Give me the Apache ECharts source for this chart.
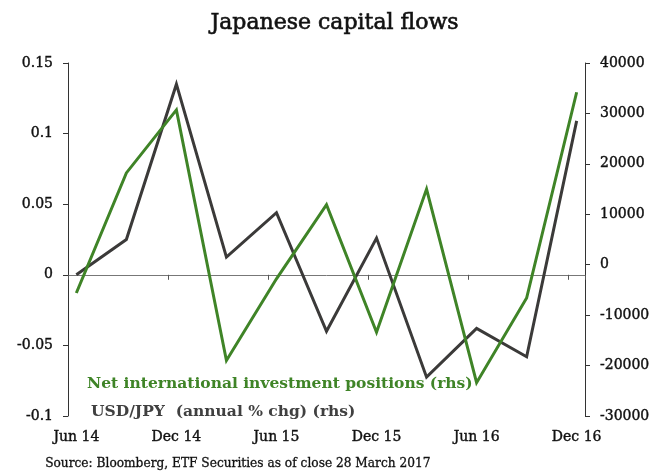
<!DOCTYPE html>
<html>
<head>
<meta charset="utf-8">
<script src="https://cdn.jsdelivr.net/npm/echarts@6/dist/echarts.min.js"></script>
<style>
  html, body { margin: 0; padding: 0; background: #ffffff; }
  #chart { width: 669px; height: 475px; }
</style>
</head>
<body>
<div id="chart"></div>
<script>
// Quarter-end observations, Jun 2014 to Dec 2016
const quarters = ['Jun 14', 'Sep 14', 'Dec 14', 'Mar 15', 'Jun 15', 'Sep 15',
                  'Dec 15', 'Mar 16', 'Jun 16', 'Sep 16', 'Dec 16'];

// USD/JPY, annual % change (left axis)
const usdJpyChange = [0.000, 0.025, 0.135, 0.0125, 0.044, -0.040,
                      0.026, -0.0725, -0.038, -0.058, 0.109];

// Net international investment positions (right axis)
const netIntlPositions = [-5600, 18200, 30700, -19000, -2800, 11900,
                          -13400, 15000, -23400, -6600, 34200];

// Axis tick labels
const leftTicks = ['-0.1', '-0.05', '0', '0.05', '0.1', '0.15'];
const rightTicks = ['-30000', '-20000', '-10000', '0', '10000', '20000', '30000', '40000'];

// Monthly time line so quarters sit mid-month and ticks fall on half-year boundaries
const monthNames = ['Jan', 'Feb', 'Mar', 'Apr', 'May', 'Jun', 'Jul', 'Aug', 'Sep', 'Oct', 'Nov', 'Dec'];
const months = [];
for (let y = 14, m = 5; !(y === 17 && m === 0); ) {
  months.push(monthNames[m] + ' ' + y);
  m++;
  if (m === 12) { m = 0; y++; }
}

const SERIF = '"DejaVu Serif", "Liberation Serif", serif';
const GREEN = '#3f8427';
const DARK = '#3b3a39';
const AXIS = '#333333';
const INK = '#111111';

// slightly heavier strokes for the body text
const heavy = (color, w) => ({ textBorderColor: color, textBorderWidth: w });

const chart = echarts.init(document.getElementById('chart'), null, { renderer: 'canvas' });

chart.setOption({
  animation: false,
  backgroundColor: '#ffffff',
  title: {
    text: 'Japanese capital flows',
    left: 'center',
    top: 7,
    textStyle: Object.assign({ fontFamily: SERIF, fontSize: 22, fontWeight: 'normal', color: INK }, heavy(INK, 0.6))
  },
  legend: [
    {
      data: [{ name: 'Net international investment positions (rhs)', textStyle: { color: GREEN } }],
      left: 81, top: 376, padding: 0, itemWidth: 0, itemHeight: 0, itemGap: 0,
      textStyle: { fontFamily: SERIF, fontSize: 15.5, fontWeight: 'bold' },
      selectedMode: false
    },
    {
      data: [{ name: 'USD/JPY  (annual % chg) (rhs)', textStyle: { color: '#404040' } }],
      left: 85, top: 404, padding: 0, itemWidth: 0, itemHeight: 0, itemGap: 0,
      textStyle: { fontFamily: SERIF, fontSize: 15.5, fontWeight: 'bold' },
      selectedMode: false
    }
  ],
  graphic: [{
    type: 'text',
    left: 45, top: 458,
    style: {
      text: 'Source: Bloomberg, ETF Securities as of close 28 March 2017',
      font: '12.2px "DejaVu Serif", serif',
      fill: INK,
      stroke: INK,
      lineWidth: 0.3
    }
  }],
  grid: { left: 68, right: 84, top: 63, bottom: 59, containLabel: false },
  xAxis: [
    {
      // labels along the bottom edge
      type: 'category',
      data: months,
      boundaryGap: true,
      position: 'bottom',
      axisLine: { show: false, onZero: false },
      axisTick: { show: false },
      axisLabel: Object.assign({
        interval: 5, margin: 14, color: INK,
        fontFamily: SERIF, fontSize: 14
      }, heavy(INK, 0.4)),
      splitLine: { show: false }
    },
    {
      // axis line crossing at zero on the left scale
      type: 'category',
      data: months,
      boundaryGap: true,
      position: 'bottom',
      axisLine: { show: true, onZero: true, lineStyle: { color: '#777777', width: 1 } },
      axisTick: { show: true, interval: 5, length: 5, lineStyle: { color: '#555555' } },
      axisLabel: { show: false },
      splitLine: { show: false }
    }
  ],
  yAxis: [
    {
      type: 'value',
      min: -0.1, max: 0.15, interval: 0.05,
      position: 'left',
      axisLine: { show: true, lineStyle: { color: AXIS, width: 1 } },
      axisTick: { show: true, length: 5, lineStyle: { color: AXIS } },
      axisLabel: Object.assign({
        margin: 15, color: INK, fontFamily: SERIF, fontSize: 14,
        formatter: (v, i) => leftTicks[i]
      }, heavy(INK, 0.4)),
      splitLine: { show: false }
    },
    {
      type: 'value',
      min: -30000, max: 40000, interval: 10000,
      position: 'right',
      axisLine: { show: true, lineStyle: { color: AXIS, width: 1 } },
      axisTick: { show: true, length: 5, lineStyle: { color: AXIS } },
      axisLabel: Object.assign({
        margin: 15, color: INK, fontFamily: SERIF, fontSize: 14,
        formatter: (v, i) => rightTicks[i]
      }, heavy(INK, 0.4)),
      splitLine: { show: false }
    }
  ],
  series: [
    {
      name: 'USD/JPY  (annual % chg) (rhs)',
      type: 'line',
      xAxisIndex: 0,
      yAxisIndex: 0,
      data: quarters.map((q, i) => [q, usdJpyChange[i]]),
      showSymbol: false,
      lineStyle: { color: DARK, width: 3, join: 'miter' },
      itemStyle: { color: DARK },
      z: 2
    },
    {
      name: 'Net international investment positions (rhs)',
      type: 'line',
      xAxisIndex: 0,
      yAxisIndex: 1,
      data: quarters.map((q, i) => [q, netIntlPositions[i]]),
      showSymbol: false,
      lineStyle: { color: GREEN, width: 3, join: 'miter' },
      itemStyle: { color: GREEN },
      z: 3
    }
  ]
});
</script>
</body>
</html>
